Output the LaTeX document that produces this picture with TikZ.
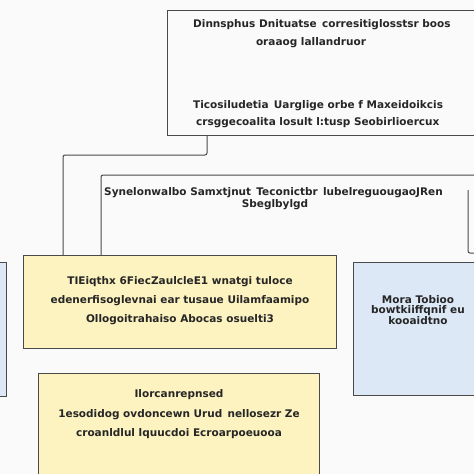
\documentclass[tikz,border=0pt]{standalone}
\usepackage{fontspec}
\setmainfont{DejaVu Sans}
\usepackage{xcolor}
\usepackage{tikz}
\usetikzlibrary{positioning}

\definecolor{paper}{HTML}{FAFAFA}
\definecolor{notefill}{HTML}{FDF3C0}
\definecolor{infofill}{HTML}{DCE8F6}
\definecolor{edge}{HTML}{4A4A4A}

\begin{document}
\begin{tikzpicture}[x=1pt, y=-1pt,
    box/.style={draw=edge, line width=1pt, anchor=north west, inner sep=0pt},
    txt/.style={font=\fontsize{10.5}{19}\selectfont\bfseries, text=black!85, align=center, inner sep=0pt},
    wire/.style={draw=edge, line width=1pt, rounded corners=2pt}]
      \fill[paper] (0,0) rectangle (474,474);
      \useasboundingbox (0,0) rectangle (474,474);
      \clip (0,0) rectangle (474,474);

      % boxes
      \node[box, minimum width=320pt, minimum height=125pt] (top) at (167,10) {};
      \node[box, fill=infofill, minimum width=26pt, minimum height=134pt] (left) at (-20,262) {};
      \node[box, fill=notefill, minimum width=313pt, minimum height=93pt] (note) at (23,255) {};
      \node[box, fill=infofill, minimum width=140pt, minimum height=133pt] (info) at (353,262) {};
      \node[box, fill=notefill, minimum width=281pt, minimum height=120pt] (remark) at (38,373) {};

      % open frame and links
      \coordinate (frameR) at (480,175);
      \draw[wire] ([xshift=78pt]note.north west) |- (frameR);
      \draw[wire] (468,190) -- (468,253) -- (480,253);
      \draw[wire] ([xshift=40pt]top.south west) -- ++(0,19) -| ([xshift=40pt]note.north west);

      % texts
      \node[txt, anchor=west] (t1) at (193,25) {Dinnsphus Dnituatse\enspace corresitiglosstsr boos};
      \node[txt] (t2) at (311,43) {oraaog lallandruor};
      \node[txt, anchor=west] (t3) at (193,106) {Ticosiludetia\enspace Uarglige orbe f Maxeidoikcis};
      \node[txt, anchor=west] (t4) at (196,123) {crsggecoalita losult l:tusp Seobirlioercux};

      \node[txt, anchor=west] (s1) at (104,193) {Synelonwalbo Samxtjnut\enspace Teconictbr\enspace lubelreguougaoJRen};
      \node[txt] (s2) at (275,205) {Sbeglbylgd};

      \node[txt] (n1) at (180,301) {TIEiqthx 6FiecZaulcleE1 wnatgi tuloce\\
        edenerfisoglevnai ear tusaue Uilamfaamipo\\
        Ollogoitrahaiso Abocas osuelti3};

      \node[txt, font=\fontsize{10.5}{10.5}\selectfont\bfseries] (i1) at (418,310) {Mora Tobioo\\
        bowtkiiffqnif eu\\
        kooaidtno};

      \node[txt] (r1) at (179,395) {Ilorcanrepnsed};
      \node[txt] (r2) at (179,424) {1esodidog ovdoncewn Urud\enspace nellosezr Ze\\
        croanldlul lquucdoi Ecroarpoeuooa};
\end{tikzpicture}
\end{document}
